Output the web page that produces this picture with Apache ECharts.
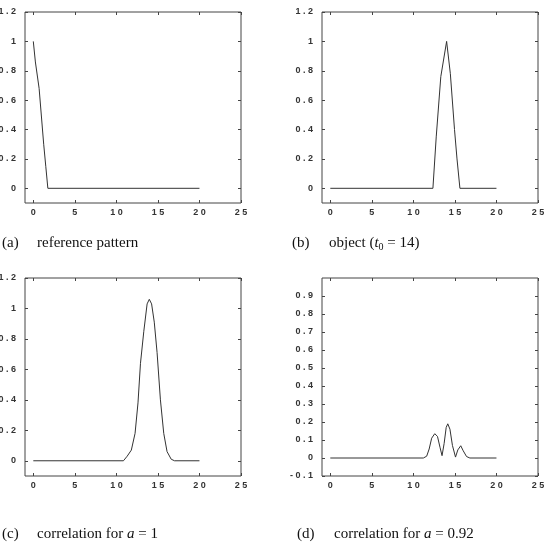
<!DOCTYPE html>
<html>
<head>
<meta charset="utf-8">
<script src="https://cdn.jsdelivr.net/npm/echarts@6/dist/echarts.min.js"></script>
<style>
  html, body { margin: 0; padding: 0; background: #fff; }
  #chart { width: 545px; height: 548px; }
</style>
</head>
<body>
<div id="chart"></div>
<script>
// tick labels
var xTicks = [0, 5, 10, 15, 20, 25];
var yTicks = [0, 0.2, 0.4, 0.6, 0.8, 1, 1.2];
var yTicksD = [-0.1, 0, 0.1, 0.2, 0.3, 0.4, 0.5, 0.6, 0.7, 0.8, 0.9];

// (a) reference pattern
var refPattern = [[0, 1], [0.25, 0.86], [0.7, 0.68], [1.25, 0.3], [1.5, 0.15], [1.75, 0], [20, 0]];
// (b) object, t0 = 14
var objectCurve = [[0, 0], [12.35, 0], [12.75, 0.35], [13.3, 0.76], [14, 1], [14.45, 0.78], [14.95, 0.4], [15.25, 0.2], [15.6, 0], [20, 0]];
// (c) correlation, a = 1
var corrA1 = [[0, 0], [10.85, 0], [11.3, 0.03], [11.8, 0.07], [12.25, 0.18], [12.6, 0.38], [12.9, 0.64],
  [13.3, 0.85], [13.7, 1.03], [13.96, 1.06], [14.24, 1.03], [14.56, 0.91], [14.9, 0.71], [15.3, 0.4],
  [15.7, 0.18], [16.1, 0.06], [16.6, 0.01], [17, 0], [20, 0]];
// (d) correlation, a = 0.92
var corrA092 = [[0, 0], [11.2, 0], [11.6, 0.01], [11.9, 0.05], [12.2, 0.11], [12.57, 0.135], [12.9, 0.12],
  [13.2, 0.06], [13.45, 0.013], [13.7, 0.08], [13.95, 0.17], [14.14, 0.19], [14.4, 0.16], [14.7, 0.07],
  [15.07, 0.005], [15.35, 0.045], [15.7, 0.068], [16, 0.04], [16.4, 0.008], [16.8, 0], [20, 0]];

var grids = [
  { left: 25, top: 12, width: 216, height: 191 },
  { left: 322, top: 12, width: 216, height: 191 },
  { left: 25, top: 278, width: 216, height: 198 },
  { left: 322, top: 278, width: 216, height: 198 }
];
var yRanges = [[-0.1, 1.2, yTicks], [-0.1, 1.2, yTicks], [-0.1, 1.2, yTicks], [-0.1, 1.0, yTicksD]];
var curves = [refPattern, objectCurve, corrA1, corrA092];

function spaced(v) {
  var s = String(Math.round(v * 10) / 10);
  return s.split('').join(' ');
}

var lineCol = '#444';
var lbl = { fontFamily: 'Liberation Sans', fontSize: 9, fontWeight: 'bold', color: '#333' };
var noLine = { show: false, onZero: false };

var xAxes = [], yAxes = [], series = [];
grids.forEach(function (g, i) {
  g.show = true;
  g.borderColor = lineCol;
  g.borderWidth = 1;
  g.backgroundColor = '#fff';
  g.containLabel = false;
  g.outerBoundsMode = 'none';
  xAxes.push({
    type: 'value', gridIndex: i, min: -1, max: 25, position: 'bottom',
    axisLine: noLine, splitLine: { show: false },
    axisTick: { inside: true, length: 3, lineStyle: { color: lineCol }, customValues: xTicks },
    axisLabel: Object.assign({ margin: 5, formatter: spaced, customValues: xTicks }, lbl)
  });
  xAxes.push({
    type: 'value', gridIndex: i, min: -1, max: 25, position: 'top',
    axisLine: noLine, splitLine: { show: false }, axisLabel: { show: false },
    axisTick: { inside: true, length: 3, lineStyle: { color: lineCol }, customValues: xTicks }
  });
  var yr = yRanges[i];
  yAxes.push({
    type: 'value', gridIndex: i, min: yr[0], max: yr[1], position: 'left',
    axisLine: noLine, splitLine: { show: false },
    axisTick: { inside: true, length: 3, lineStyle: { color: lineCol }, customValues: yr[2] },
    axisLabel: Object.assign({ margin: 9, formatter: spaced, customValues: yr[2] }, lbl)
  });
  yAxes.push({
    type: 'value', gridIndex: i, min: yr[0], max: yr[1], position: 'right',
    axisLine: noLine, splitLine: { show: false }, axisLabel: { show: false },
    axisTick: { inside: true, length: 3, lineStyle: { color: lineCol }, customValues: yr[2] }
  });
  series.push({
    type: 'line', xAxisIndex: i * 2, yAxisIndex: i * 2, data: curves[i],
    showSymbol: false, smooth: false, animation: false,
    lineStyle: { color: '#333', width: 1 }
  });
});

var cap = { fontFamily: 'Liberation Serif', fontSize: 15, fill: '#111' };
var rich = {
  i: { fontFamily: 'Liberation Serif', fontSize: 15, fontStyle: 'italic' },
  s: { fontFamily: 'Liberation Serif', fontSize: 10, padding: [8, 0, 0, 0] }
};
function caption(x, y, text) {
  return { type: 'text', left: x, top: y, style: Object.assign({ text: text, rich: rich }, cap) };
}

var chart = echarts.init(document.getElementById('chart'));
chart.setOption({
  animation: false,
  grid: grids,
  xAxis: xAxes,
  yAxis: yAxes,
  series: series,
  graphic: [
    caption(2, 236, '(a)'),
    caption(37, 236, 'reference pattern'),
    caption(292, 236, '(b)'),
    caption(329, 236, 'object ({i|t}{s|0} = 14)'),
    caption(2, 527, '(c)'),
    caption(37, 527, 'correlation for {i|a} = 1'),
    caption(297, 527, '(d)'),
    caption(334, 527, 'correlation for {i|a} = 0.92')
  ]
});
</script>
</body>
</html>
